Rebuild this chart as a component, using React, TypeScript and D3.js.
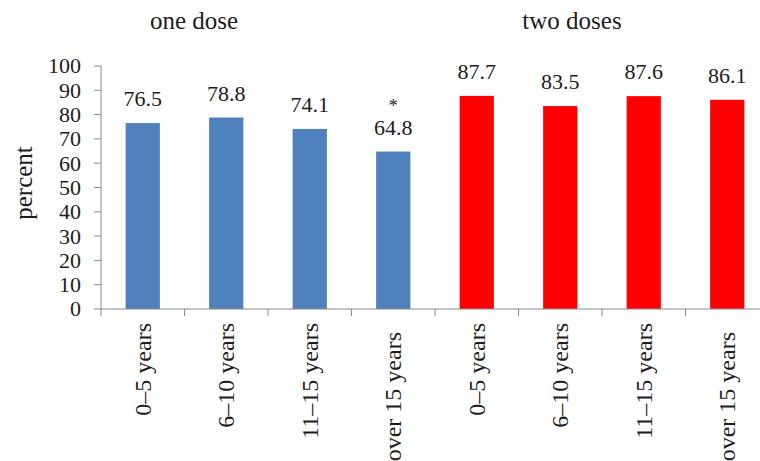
import React from "react";
import * as d3 from "d3";

const categories = ["0–5 years", "6–10 years", "11–15 years", "over 15 years"];
const oneDose = [76.5, 78.8, 74.1, 64.8];
const twoDoses = [87.7, 83.5, 87.6, 86.1];
const groupTitles = ["one dose", "two doses"];
const yTicks = [0, 10, 20, 30, 40, 50, 60, 70, 80, 90, 100];
const starred = [false, false, false, true, false, false, false, false];

const W = 760;
const H = 461;
const FONT = "Liberation Serif, DejaVu Serif, Times New Roman, serif";
const AXIS = "#8a8a8a";
const TEXT = "#1c1c1c";

export default function App() {
  const rows = [
    ...oneDose.map((v, i) => ({ key: `1-${i}`, cat: categories[i], value: v, color: "#4F81BD" })),
    ...twoDoses.map((v, i) => ({ key: `2-${i}`, cat: categories[i], value: v, color: "#FF0000" })),
  ];
  const x = d3.scaleBand<string>().domain(rows.map((r) => r.key)).range([101, 769]).padding(0);
  const y = d3.scaleLinear().domain([0, 100]).range([309, 66]);
  const barW = x.bandwidth() * 0.41;
  const edges = rows.map((r) => x(r.key) as number);
  const ts = { fontFamily: FONT, fill: TEXT } as React.CSSProperties;

  return (
    <svg width={W} height={H} style={{ position: "absolute", left: 0, top: 0, background: "#fff", fontFamily: FONT }}>
      {/* titles */}
      <text x={194} y={29} textAnchor="middle" fontSize={25} style={ts}>{groupTitles[0]}</text>
      <text x={572} y={29} textAnchor="middle" fontSize={25} style={ts}>{groupTitles[1]}</text>

      {/* y axis */}
      <line x1={101} x2={101} y1={y(100)} y2={y(0)} stroke={AXIS} strokeWidth={1} />
      {yTicks.map((t) => (
        <g key={t}>
          <line x1={94} x2={101} y1={y(t)} y2={y(t)} stroke={AXIS} strokeWidth={1} />
          <text x={81} y={y(t)} dy="0.34em" textAnchor="end" fontSize={22} style={ts}>{t}</text>
        </g>
      ))}
      <text transform={`translate(32,183) rotate(-90)`} textAnchor="middle" fontSize={25} style={ts}>percent</text>

      {/* bars */}
      {rows.map((r) => {
        const cx = (x(r.key) as number) + x.bandwidth() / 2;
        return (
          <rect key={r.key} x={cx - barW / 2} y={y(r.value)} width={barW} height={y(0) - y(r.value)} fill={r.color} />
        );
      })}

      {/* value labels */}
      {rows.map((r, i) => {
        const cx = (x(r.key) as number) + x.bandwidth() / 2;
        return (
          <g key={`l-${r.key}`}>
            <text x={cx} y={y(r.value) - 17} textAnchor="middle" fontSize={22} style={ts}>{r.value.toFixed(1)}</text>
            {starred[i] && (
              <text x={cx} y={y(r.value) - 40} textAnchor="middle" fontSize={18} style={ts}>*</text>
            )}
          </g>
        );
      })}

      {/* x axis */}
      <line x1={101} x2={W} y1={y(0)} y2={y(0)} stroke={AXIS} strokeWidth={1} />
      {edges.map((e, i) => (
        <line key={`t-${i}`} x1={e} x2={e} y1={y(0)} y2={y(0) + 7} stroke={AXIS} strokeWidth={1} />
      ))}
      {rows.map((r) => {
        const cx = (x(r.key) as number) + x.bandwidth() / 2;
        const top = r.cat.startsWith("over") ? 332 : 323;
        return (
          <text key={`c-${r.key}`} transform={`translate(${cx + 8},${top}) rotate(-90)`} textAnchor="end" fontSize={24} style={ts}>
            {r.cat}
          </text>
        );
      })}
    </svg>
  );
}
